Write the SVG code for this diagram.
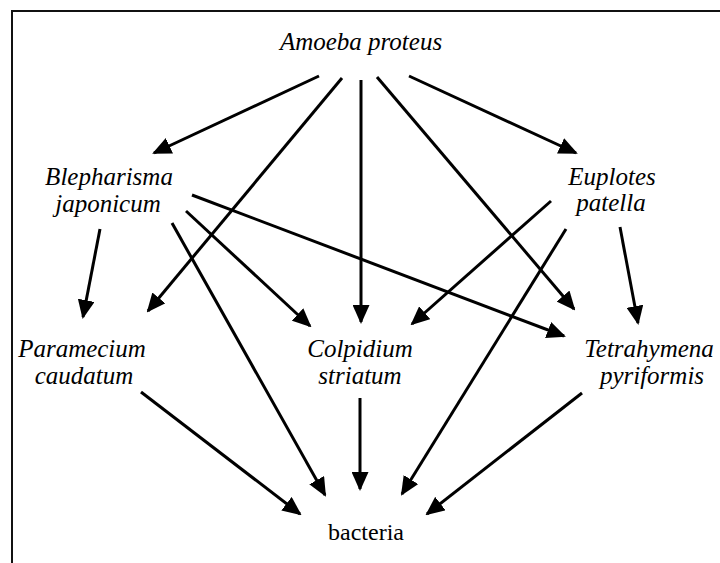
<svg xmlns="http://www.w3.org/2000/svg" width="720" height="563" viewBox="0 0 720 563">
<style>
.t{font-family:'Liberation Serif','Times New Roman',Times,serif;font-size:25px;font-style:italic;fill:#000;text-anchor:middle}
.u{font-style:normal;font-size:24px}
.e line{stroke:#000;stroke-width:3;marker-end:url(#ah)}
</style>
<defs>
<marker id="ah" viewBox="0 0 19 17" refX="17" refY="8.5" markerWidth="19" markerHeight="17" markerUnits="userSpaceOnUse" orient="auto">
<path d="M0,0 L19,8.5 L0,17 z" fill="#000"/>
</marker>
</defs>
<rect width="720" height="563" fill="#fff"/>
<path d="M12,563 V11 H720" fill="none" stroke="#111" stroke-width="2"/>
<g id="amoeba"><text class="t" x="361" y="50">Amoeba proteus</text></g>
<g id="blepharisma"><text class="t" x="109" y="185">Blepharisma</text><text class="t" x="108" y="212">japonicum</text></g>
<g id="euplotes"><text class="t" x="612" y="185">Euplotes</text><text class="t" x="611" y="211">patella</text></g>
<g id="paramecium"><text class="t" x="82" y="357">Paramecium</text><text class="t" x="84" y="384">caudatum</text></g>
<g id="colpidium"><text class="t" x="360" y="357">Colpidium</text><text class="t" x="360" y="384">striatum</text></g>
<g id="tetrahymena"><text class="t" x="649" y="357">Tetrahymena</text><text class="t" x="652" y="384">pyriformis</text></g>
<g id="bacteria"><text class="t u" x="366" y="540">bacteria</text></g>
<g id="connectors" class="e">
<line x1="319" y1="76" x2="154" y2="153"/>
<line x1="342" y1="78" x2="148" y2="311"/>
<line x1="361" y1="80" x2="361" y2="322"/>
<line x1="377" y1="77" x2="574" y2="309"/>
<line x1="409" y1="76" x2="576" y2="153"/>
<line x1="100" y1="229" x2="83" y2="317"/>
<line x1="186" y1="211" x2="310" y2="326"/>
<line x1="192" y1="195" x2="564" y2="336"/>
<line x1="172" y1="223" x2="325" y2="495"/>
<line x1="551" y1="201" x2="412" y2="324"/>
<line x1="620" y1="227" x2="638" y2="323"/>
<line x1="566" y1="229" x2="402" y2="494"/>
<line x1="141" y1="392" x2="300" y2="514"/>
<line x1="360" y1="398" x2="360" y2="489"/>
<line x1="582" y1="393" x2="427" y2="514"/>
</g>
</svg>
